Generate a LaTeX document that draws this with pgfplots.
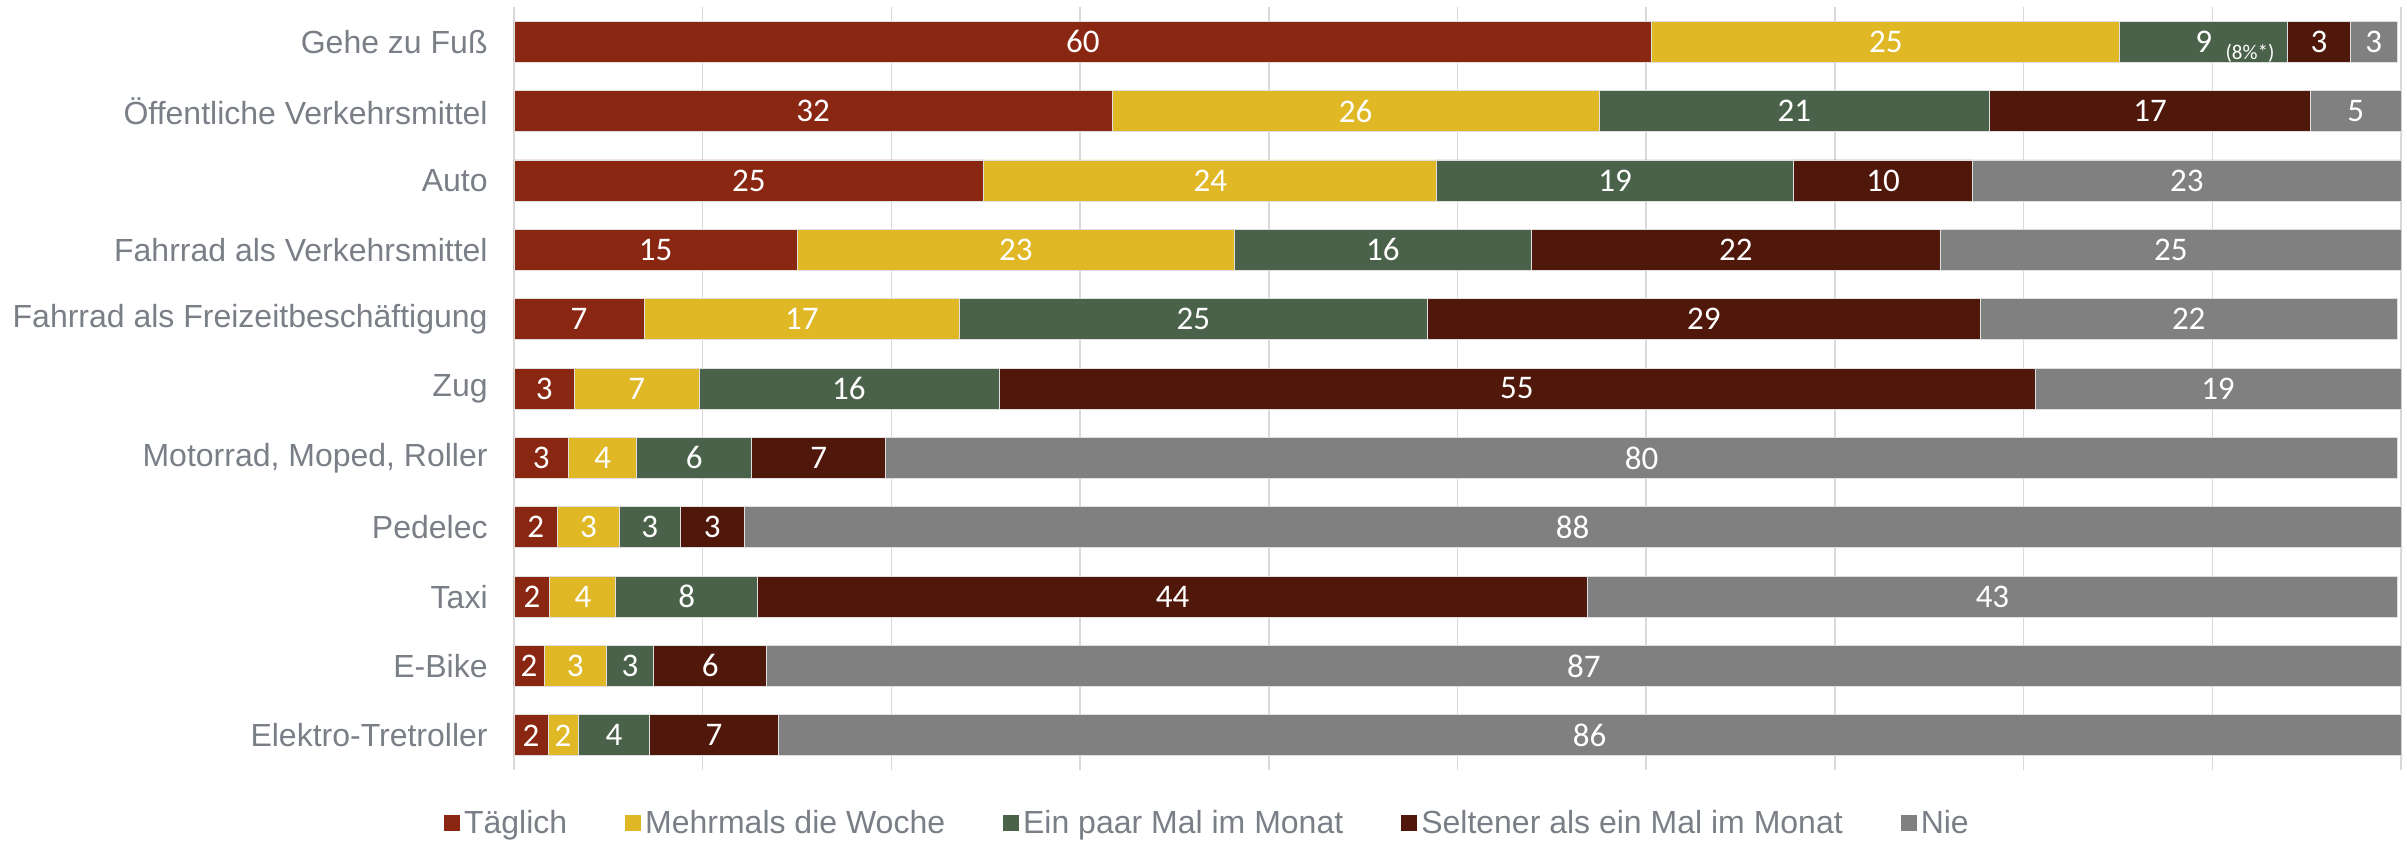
\documentclass[border=0pt]{standalone}
\usepackage{pgfplots}
\pgfplotsset{compat=1.18}
\usepackage{fontspec}
\setmainfont{Liberation Sans}
\newfontfamily\labfont{Carlito}
\definecolor{cA}{HTML}{8A2712}
\definecolor{cB}{HTML}{E0B826}
\definecolor{cC}{HTML}{4A624A}
\definecolor{cD}{HTML}{4F180B}
\definecolor{cE}{HTML}{808080}
\definecolor{txt}{HTML}{7A7F87}
\definecolor{gridc}{HTML}{D9D9D9}
\begin{document}
\begin{tikzpicture}
\begin{axis}[
  name=ax,
  scale only axis,
  width=943.5pt, height=381.5pt,
  xbar stacked, bar width=20.5pt,
  xmin=0, xmax=100, ymin=-0.5, ymax=10.5,
  y dir=reverse,
  axis line style={draw=none},
  xtick={0,10,...,100}, xticklabels={},
  xmajorgrids, grid style={gridc, line width=0.75pt},
  major tick length=0pt,
  ytick={0,...,10},
  yticklabels={Gehe zu Fuß, Öffentliche Verkehrsmittel, Auto, Fahrrad als Verkehrsmittel, Fahrrad als Freizeitbeschäftigung, Zug, {Motorrad, Moped, Roller}, Pedelec, Taxi, E-Bike, Elektro-Tretroller},
  yticklabel style={font=\fontsize{16}{19}\selectfont, text=txt, anchor=east, inner sep=0pt, xshift=-13pt},
  point meta=explicit symbolic,
  nodes near coords={\pgfplotspointmeta},
  every node near coord/.append style={font=\labfont\fontsize{16.5}{19}\selectfont, text=white, anchor=center},
  legend style={at={(0.368,-0.0695)}, anchor=center, draw=none, fill=none, legend columns=-1,
    font=\fontsize{16}{19}\selectfont, text=txt,
    /tikz/every even column/.append style={column sep=27pt}},
  legend image code/.code={\fill[#1,draw=none] (0pt,-4pt) rectangle (8pt,4pt);},
  extra description/.code={
    \node[font=\labfont\fontsize{10.5}{12}\selectfont, text=white, anchor=south, inner sep=0pt] at (0.92,0.9273) {(8\%*)};
  },
]
\addplot[fill=cA, draw=white!75!gray, line width=0.4pt] coordinates {(60.3,0)[60] (31.7,1)[32] (24.9,2)[25] (15.0,3)[15] (6.9,4)[7] (3.2,5)[3] (2.9,6)[3] (2.3,7)[2] (1.9,8)[2] (1.6,9)[2] (1.8,10)[2]};
\addplot[fill=cB, draw=white!75!gray, line width=0.4pt] coordinates {(24.8,0)[25] (25.8,1)[26] (24.0,2)[24] (23.2,3)[23] (16.7,4)[17] (6.6,5)[7] (3.6,6)[4] (3.3,7)[3] (3.5,8)[4] (3.3,9)[3] (1.6,10)[2]};
\addplot[fill=cC, draw=white!75!gray, line width=0.4pt] coordinates {(8.9,0)[9] (20.7,1)[21] (18.9,2)[19] (15.7,3)[16] (24.8,4)[25] (15.9,5)[16] (6.1,6)[6] (3.2,7)[3] (7.5,8)[8] (2.5,9)[3] (3.8,10)[4]};
\addplot[fill=cD, draw=white!75!gray, line width=0.4pt] coordinates {(3.3,0)[3] (17.0,1)[17] (9.5,2)[10] (21.7,3)[22] (29.3,4)[29] (54.9,5)[55] (7.1,6)[7] (3.4,7)[3] (44.0,8)[44] (6.0,9)[6] (6.8,10)[7]};
\addplot[fill=cE, draw=white!75!gray, line width=0.4pt] coordinates {(2.5,0)[3] (4.8,1)[5] (22.7,2)[23] (24.4,3)[25] (22.1,4)[22] (19.4,5)[19] (80.1,6)[80] (87.8,7)[88] (42.9,8)[43] (86.6,9)[87] (86.0,10)[86]};
\legend{Täglich, Mehrmals die Woche, Ein paar Mal im Monat, Seltener als ein Mal im Monat, Nie}
\end{axis}
\pgfresetboundingbox
\useasboundingbox ([shift={(-257pt,-35.5pt)}]ax.south west) rectangle ([shift={(3pt,3.5pt)}]ax.north east);
\end{tikzpicture}
\end{document}
